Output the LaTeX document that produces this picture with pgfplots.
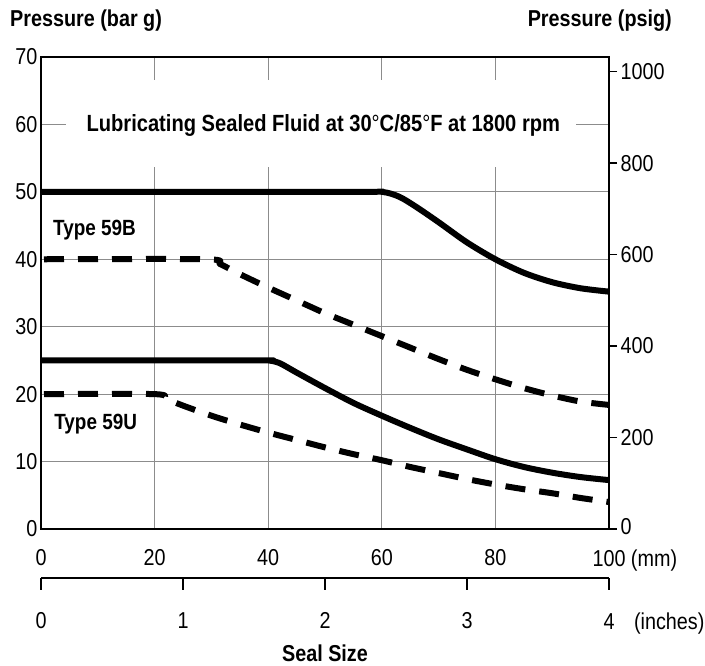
\documentclass[border=0pt]{standalone}
\usepackage{fontspec}
\setmainfont{Liberation Sans}[FakeStretch=0.86]
\usepackage{pgfplots}
\pgfplotsset{compat=1.18}
\definecolor{gridgray}{HTML}{8C8C8C}

% Type 59B / 59U pressure limits, bar g against seal size in mm
\pgfplotstableread{
x y
0 50
55 50
60 50
63 49.3
66 47.8
70 45.5
75 42.5
80 40.0
85 38.0
90 36.6
95 35.7
100 35.2
}\bsolid
\pgfplotstableread{
x y
0 40
29 40
31.5 39.3
35 37.8
40 35.8
45 33.9
50 32.0
55 30.3
60 28.6
65 26.9
70 25.2
75 23.6
80 22.2
85 20.9
90 19.8
95 18.9
100 18.4
}\bdashed
\pgfplotstableread{
x y
0 25
38 25
40 25
42 24.6
45 23.2
50 20.9
55 18.7
60 16.8
65 15.0
70 13.3
75 11.8
80 10.35
85 9.2
90 8.35
95 7.7
100 7.25
}\usolid
\pgfplotstableread{
x y
0 20
20 20
22 19.3
25 18.3
30 16.8
35 15.5
40 14.3
45 13.2
50 12.1
55 11.1
60 10.2
65 9.2
70 8.3
75 7.4
80 6.6
85 5.9
90 5.3
95 4.6
100 4.0
}\udashed

\pgfplotsset{
  every axis/.append style={font=\fontsize{23bp}{27bp}\selectfont},
  curve/.style={black, line width=6bp, smooth, tension=0.5, line join=round},
  dashcurve/.style={curve, dash pattern=on 20bp off 14bp, dash phase=31bp},
}

\begin{document}
\begin{tikzpicture}[font=\fontsize{23bp}{27bp}\selectfont]
\begin{axis}[name=main, at={(0,0)}, anchor=south west,
  scale only axis, width=568bp, height=472bp,
  xmin=0, xmax=100, ymin=0, ymax=70,
  xtick={0,20,...,100}, ytick={0,10,...,70},
  xticklabels={0,20,40,60,80,{100\rlap{~(mm)}}},
  /pgf/number format/assume math mode=true,
  grid=major, grid style={gridgray, line width=1bp},
  major tick length=0pt,
  axis line style={line width=1.6bp},
  xticklabel style={yshift=-17bp},
]
\fill[white] (axis cs:4.4,53.7) rectangle (axis cs:94.2,66.6);
\node[anchor=base, inner sep=0pt, font=\fontsize{23.4bp}{27bp}\selectfont\bfseries]
  at (axis cs:49.7,58.95) {Lubricating Sealed Fluid at 30{\mdseries°}C/85{\mdseries°}F at 1800 rpm};
\node[anchor=base west, inner sep=0pt, font=\fontsize{22bp}{26bp}\selectfont\bfseries]
  at (axis cs:2.1,43.6) {Type 59B};
\node[anchor=base west, inner sep=0pt, font=\fontsize{22bp}{26bp}\selectfont\bfseries]
  at (axis cs:2.3,14.7) {Type 59U};

\addplot[curve] table {\bsolid};
\addplot[dashcurve] table {\bdashed};
\addplot[curve] table {\usolid};
\addplot[dashcurve] table {\udashed};
\end{axis}

% psig scale on the right
\begin{axis}[at={(0,0)}, anchor=south west,
  scale only axis, width=568bp, height=472bp,
  xmin=0, xmax=100, ymin=0, ymax=1032,
  axis x line=none, axis y line*=right,
  ytick={0,200,...,1000},
  yticklabels={{\raisebox{6bp}{0}},200,400,600,800,1000},
  tick align=outside, major tick length=8bp,
  tick style={black, line width=1.3bp},
  axis line style={line width=1.6bp},
]
\end{axis}

% inch scale below
\begin{axis}[at={(0,-49bp)}, anchor=south west,
  scale only axis, width=568bp, height=10bp,
  xmin=0, xmax=4, ymin=0, ymax=1,
  axis y line=none, axis x line*=bottom,
  xtick={0,...,4},
  xticklabels={0,1,2,3,{4\rlap{\hspace{0.85em}(inches)}}},
  tick align=outside, major tick length=12bp,
  tick style={black, line width=1.3bp},
  axis line style={line width=1.6bp},
  xticklabel style={yshift=-19bp},
]
\end{axis}

\node[anchor=west, inner sep=0pt, font=\fontsize{23bp}{27bp}\selectfont\bfseries]
  at ([xshift=-31bp,yshift=36bp]main.north west) {Pressure (bar g)};
\node[anchor=east, inner sep=0pt, font=\fontsize{23bp}{27bp}\selectfont\bfseries]
  at ([xshift=63bp,yshift=36bp]main.north east) {Pressure (psig)};
\node[anchor=base, inner sep=0pt, font=\fontsize{23bp}{27bp}\selectfont\bfseries]
  at ([yshift=-133bp]main.south) {Seal Size};

\pgfresetboundingbox
\path[use as bounding box] ([xshift=-41bp,yshift=-137bp]main.south west)
  rectangle ([xshift=96bp,yshift=57bp]main.north east);
\end{tikzpicture}
\end{document}
